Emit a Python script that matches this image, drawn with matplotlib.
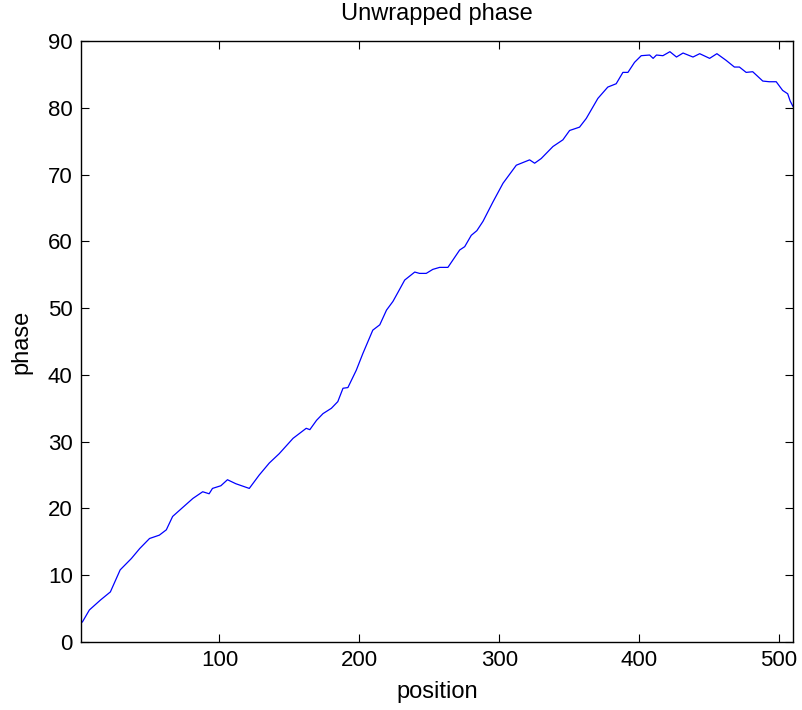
import matplotlib
matplotlib.use("Agg")
import matplotlib.pyplot as plt

position = [1, 2, 7, 15, 22, 29, 37, 43, 50, 57, 62, 66.5, 74, 81, 88, 92.6, 95, 101,
            105.7, 111.7, 121.3, 128.4, 135.6, 142.7, 152.6, 162, 164.6, 169.4, 174, 180,
            184.6, 188.3, 191.8, 197.8, 202.5, 209.6, 214.6, 219.4, 224, 227.7, 232.4,
            239.6, 243, 247.8, 252.5, 257.4, 263.3, 271.7, 275.3, 280, 284, 288.4, 295.5,
            302.7, 312.2, 321.7, 325.3, 330, 338.4, 345.5, 350.3, 357.4, 362.2, 370.5,
            377.6, 383.6, 388.4, 392, 396.7, 401.5, 407.5, 410, 412.4, 417, 422, 426.7,
            431.4, 438.5, 443.3, 450.4, 455.6, 462.2, 468.1, 471.7, 476.5, 481.2, 488.4,
            493, 498, 502.6, 506.2, 508, 510]
phase = [2.9, 3.0, 4.8, 6.3, 7.5, 10.8, 12.5, 14.0, 15.5, 16.0, 16.8, 18.8, 20.2, 21.5,
         22.5, 22.2, 23.0, 23.4, 24.3, 23.7, 23.0, 25.0, 26.8, 28.2, 30.5, 32.0, 31.8,
         33.2, 34.2, 35.0, 36.0, 38.0, 38.1, 40.7, 43.2, 46.7, 47.5, 49.7, 51.0, 52.4,
         54.2, 55.4, 55.2, 55.2, 55.8, 56.1, 56.1, 58.7, 59.2, 60.9, 61.6, 63.0, 65.9,
         68.7, 71.4, 72.2, 71.7, 72.4, 74.2, 75.2, 76.6, 77.1, 78.4, 81.4, 83.1, 83.6,
         85.3, 85.3, 86.8, 87.8, 87.9, 87.4, 87.9, 87.8, 88.4, 87.6, 88.2, 87.6, 88.1,
         87.4, 88.1, 87.1, 86.1, 86.1, 85.3, 85.4, 84.0, 83.9, 83.9, 82.6, 82.1, 81.0, 80.2]

xticks = [100, 200, 300, 400, 500]
yticks = [0, 10, 20, 30, 40, 50, 60, 70, 80, 90]

plt.rcParams['font.family'] = ['Liberation Sans', 'DejaVu Sans']

fig = plt.figure(figsize=(8.02, 7.10), dpi=100)
ax = fig.add_axes([81/802, 1 - 642/710, (793 - 81)/802, (642 - 41)/710])
ax.plot(position, phase, color='#0000ff', linewidth=0.9)
ax.set_xlim(1, 510)
ax.set_ylim(0, 90)
ax.set_xticks(xticks)
ax.set_yticks(yticks)
ax.tick_params(direction='in', length=6, width=0.8, top=True, right=True,
               labelsize=16, pad=6, colors='black')
for s in ax.spines.values():
    s.set_linewidth(1.0)
ax.set_title('Unwrapped phase', fontsize=17, pad=15)
ax.set_xlabel('position', fontsize=17, labelpad=7)
ax.set_ylabel('phase', fontsize=17, labelpad=11)
fig.savefig('out.png', dpi=100)
